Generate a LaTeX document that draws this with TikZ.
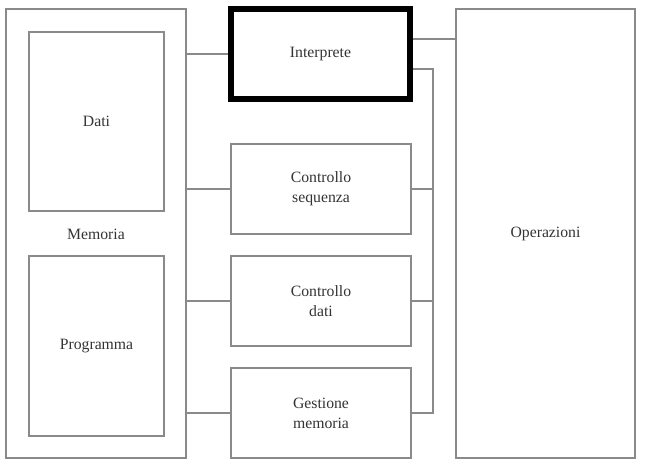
\documentclass[tikz,border=0pt]{standalone}
\usepackage{fontspec}
\setmainfont{Liberation Serif}
\usetikzlibrary{calc}
\definecolor{linegray}{HTML}{8A8A8A}
\definecolor{txtgray}{HTML}{333333}
\begin{document}
\begin{tikzpicture}[x=0.75pt,y=-0.75pt,
  every node/.style={font=\fontsize{11.8}{15}\selectfont, text=txtgray, align=center, inner sep=0pt},
  blk/.style={draw=linegray, line width=0.9pt, rectangle, minimum width=#1*0.75pt},
  blk/.default=180,
  wire/.style={draw=linegray, line width=0.8pt},
  thickblk/.style={draw=black, line width=4.5pt, rectangle}]
\useasboundingbox (0,0) rectangle (645,467);
% Memoria
\node[blk=180, minimum height=449*0.75pt] (mem) at (96,233.5) {};
\node (memlbl) at (96,234) {Memoria};
\node[blk=135, minimum height=179*0.75pt] (dati) at (96.5,121.5) {Dati};
\node[blk=135, minimum height=180*0.75pt] (prog) at (96.5,346) {Programma};
% central blocks
\node[thickblk, minimum width=179*0.75pt, minimum height=90*0.75pt] (interp) at (320.5,54) {Interprete};
\node[blk=180, minimum height=90*0.75pt] (cs) at (321,189) {Controllo\\sequenza};
\node[blk=180, minimum height=90*0.75pt] (cd) at (321,301) {Controllo\\dati};
\node[blk=180, minimum height=90*0.75pt] (gm) at (321,413) {Gestione\\memoria};
% Operazioni
\node[blk=179, minimum height=449*0.75pt] (op) at (545.5,233.5) {Operazioni};
% connectors left
\draw[wire] (mem.east |- interp.west) -- (interp.west);
\draw[wire] (mem.east |- cs.west) -- (cs.west);
\draw[wire] (mem.east |- cd.west) -- (cd.west);
\draw[wire] (mem.east |- gm.west) -- (gm.west);
% connectors right
\coordinate (j) at (0,39);
\coordinate (bus) at (433,69);
\draw[wire] (interp.east |- j) -- (op.west |- j);
\draw[wire] (interp.east |- bus) -- (bus) -- (bus |- gm.east) -- (gm.east);
\draw[wire] (cs.east) -- (bus |- cs.east);
\draw[wire] (cd.east) -- (bus |- cd.east);
\end{tikzpicture}
\end{document}
